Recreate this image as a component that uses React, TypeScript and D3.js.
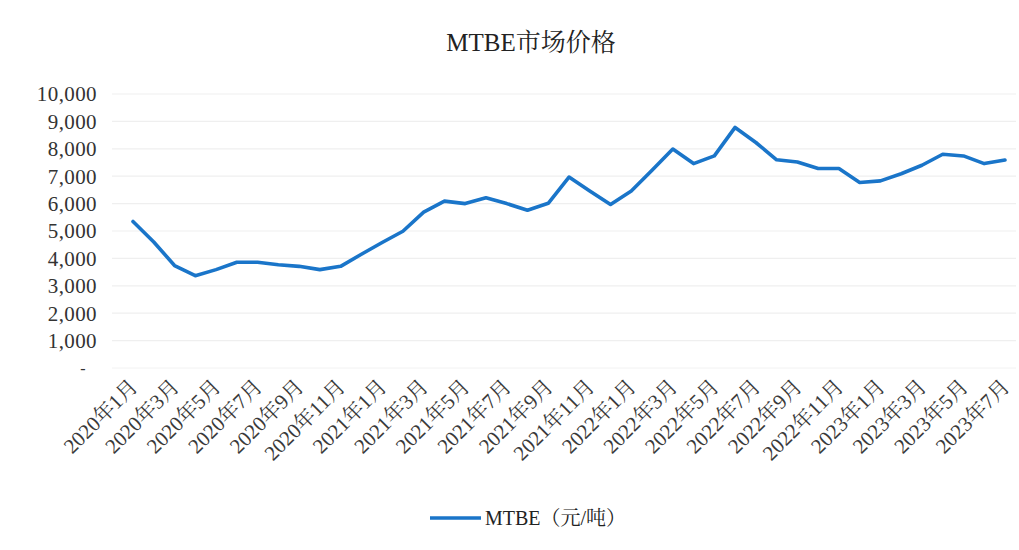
import React from "react";
import * as d3 from "d3";

const months: string[] = [];
for (let y = 2020; y <= 2023; y++) {
  for (let m = 1; m <= 12; m++) {
    if (y === 2023 && m > 7) break;
    months.push(`${y}年${m}月`);
  }
}

const mtbeValues: number[] = [
  5350, 4600, 3740, 3370, 3590, 3860, 3860, 3770, 3710, 3590, 3710, 4150,
  4580, 4990, 5690, 6090, 6000, 6210, 6000, 5760, 6010, 6970, 6460, 5970,
  6460, 7220, 7990, 7460, 7740, 8780, 8230, 7600, 7520, 7280, 7280, 6770,
  6830, 7090, 7400, 7800, 7740, 7460, 7590,
];

const yTicks: number[] = [0, 1000, 2000, 3000, 4000, 5000, 6000, 7000, 8000, 9000, 10000];

const title = "MTBE市场价格";
const legendLabel = "MTBE（元/吨）";

const W = 1019;
const H = 550;
const FONT = "'Liberation Serif', 'Times New Roman', 'Noto Serif CJK SC', 'Noto Sans CJK SC', serif";
const LINE_COLOR = "#1a75c9";

export default function App() {
  const x = d3
    .scalePoint<string>()
    .domain(months)
    .range([133, 1005]);
  const y = d3.scaleLinear().domain([0, 10000]).range([368, 94]);

  const line = d3
    .line<number>()
    .x((_, i) => x(months[i]) as number)
    .y((d) => y(d));

  const fmt = (v: number) => (v === 0 ? "-" : d3.format(",")(v));
  const labelMonths = months.filter((_, i) => i % 2 === 0);

  return (
    <div style={{ position: "fixed", left: 0, top: 0 }}>
      <svg width={W} height={H} style={{ display: "block", background: "#fff" }} fontFamily={FONT}>
        <text x={531} y={51} textAnchor="middle" fontSize={25} fill="#222">
          {title}
        </text>
        {yTicks.map((t) => (
          <g key={t}>
            {t > 0 && (
              <line x1={112} x2={1016} y1={y(t)} y2={y(t)} stroke="#efefef" strokeWidth={1.2} />
            )}
            <text
              x={t === 0 ? 86 : 97}
              y={y(t)}
              dy="0.35em"
              textAnchor="end"
              fontSize={t === 0 ? 16 : 21}
              letterSpacing={0.4}
              fill="#333"
            >
              {fmt(t)}
            </text>
          </g>
        ))}
        <line x1={112} x2={1016} y1={y(0)} y2={y(0)} stroke="#f2f2f2" strokeWidth={1} />
        <path d={line(mtbeValues) || ""} fill="none" stroke={LINE_COLOR} strokeWidth={3.6} strokeLinejoin="round" strokeLinecap="round" />
        {labelMonths.map((m) => {
          const px = x(m) as number;
          return (
            <text
              key={m}
              transform={`translate(${px + 6},${388}) rotate(-45)`}
              textAnchor="end"
              fontSize={21}
              fill="#3a3a3a"
            >
              {m}
            </text>
          );
        })}
        <line x1={430} x2={481} y1={518} y2={518} stroke={LINE_COLOR} strokeWidth={3.6} />
        <text x={485} y={518} dy="0.35em" fontSize={20} fill="#222">
          {legendLabel}
        </text>
      </svg>
    </div>
  );
}
